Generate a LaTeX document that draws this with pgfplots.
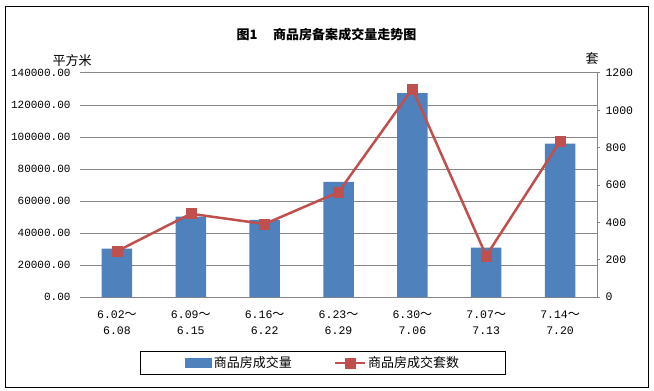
\documentclass[border=0pt]{standalone}
\usepackage{fontspec}
\usepackage{pgfplots}
\pgfplotsset{compat=1.18}
\setmainfont{Liberation Mono}
\newfontfamily\cjk{Noto Sans CJK SC}
\definecolor{barblue}{HTML}{4F81BD}
\definecolor{linered}{HTML}{C0504D}
\definecolor{gridgray}{HTML}{868686}
\newcommand{\tl}{{\cjk\fontsize{12bp}{16bp}\selectfont ～}}
\begin{document}
\begin{tikzpicture}[x=1bp,y=1bp]
\useasboundingbox (0,0) rectangle (654,390);
\fill[white] (0,0) rectangle (654,390);
\draw[black, line width=1bp] (5,3) rectangle (648,383);
\node[font=\cjk\bfseries\fontsize{13bp}{15bp}\selectfont] at (326.5,355) {图1\hspace{1.2em}商品房备案成交量走势图};
\node[font=\cjk\fontsize{13bp}{15bp}\selectfont] at (72,329.5) {平方米};
\node[font=\cjk\fontsize{13bp}{15bp}\selectfont] at (592,331.5) {套};
\begin{axis}[
  at={(80bp,93bp)}, anchor=south west, scale only axis,
  width=517bp, height=224bp,
  xmin=-0.5, xmax=6.5, ymin=0, ymax=140000,
  ytick={0,20000,...,140000},
  scaled y ticks=false,
  axis y line*=left, axis x line*=bottom,
  y axis line style={draw=none},
  x axis line style={gridgray, line width=1bp, -},
  ymajorgrids, grid style={gridgray, line width=1bp},
  major tick length=0,
  xtick={0,...,6},
  xticklabels={{6.02\tl\\6.08},{6.09\tl\\6.15},{6.16\tl\\6.22},{6.23\tl\\6.29},{6.30\tl\\7.06},{7.07\tl\\7.13},{7.14\tl\\7.20}},
  xticklabel style={align=center, font=\fontsize{11.5bp}{16bp}\selectfont, yshift=-10bp},
  yticklabel={\pgfmathprintnumber[fixed,fixed zerofill,precision=2,1000 sep={},assume math mode=true]{\tick}},
  yticklabel style={font=\fontsize{11bp}{13bp}\selectfont, xshift=-6bp},
]
\addplot[ybar, bar width=30.5bp, fill=barblue, draw=none] coordinates {
(0,30200) (1,50200) (2,48200) (3,71900) (4,127500) (5,30800) (6,95800)};
\end{axis}
\begin{axis}[
  at={(80bp,93bp)}, anchor=south west, scale only axis,
  width=517bp, height=224bp,
  xmin=-0.5, xmax=6.5, ymin=0, ymax=1200,
  ytick={0,200,...,1200},
  axis y line*=right, axis x line=none,
  y axis line style={gridgray, line width=1bp, -},
  ytick style={gridgray, line width=1bp},
  tick align=outside, major tick length=3bp,
  yticklabel={\pgfmathprintnumber[1000 sep={},assume math mode=true]{\tick}},
  yticklabel style={font=\fontsize{11.5bp}{13bp}\selectfont, xshift=2bp},
  legend columns=2,
  legend style={at={(0.470,-0.2946)}, anchor=center, draw=black, line width=1bp,
    font=\cjk\fontsize{13bp}{15bp}\selectfont, inner xsep=44bp, inner ysep=3.5bp,
    /tikz/every even column/.append style={column sep=40bp}},
]
\addlegendimage{legend image code/.code={\fill[barblue] (0bp,-4.5bp) rectangle (26bp,4.5bp);}}
\addlegendentry{商品房成交量}
\addplot[linered, line width=2.5bp, mark=square*, mark size=5bp,
  mark options={fill=linered, draw=linered, line width=0.5bp},
  legend image code/.code={\draw[mark repeat=2, mark phase=2] plot coordinates {(0bp,0bp) (15bp,0bp) (30bp,0bp)};}]
coordinates {(0,245) (1,446) (2,391) (3,562) (4,1115) (5,221) (6,834)};
\addlegendentry{商品房成交套数}
\end{axis}
\end{tikzpicture}
\end{document}
